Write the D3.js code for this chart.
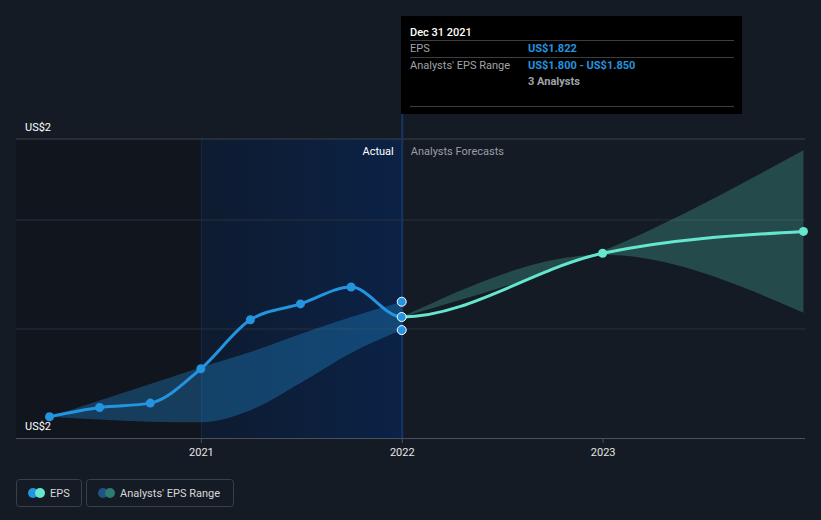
<!DOCTYPE html>
<html><head><meta charset="utf-8">
<script src="https://cdn.jsdelivr.net/npm/d3@7"></script>
<style>
html,body{margin:0;padding:0;background:#151b24;}
svg{display:block;font-family:Roboto,"Noto Sans",sans-serif;}
</style></head>
<body>
<svg id="c" width="821" height="520"></svg>
<script>
// ---- data ----
const epsDates = ["2020-03-31","2020-06-30","2020-09-30","2020-12-31","2021-03-31","2021-06-30","2021-09-30","2021-12-31","2022-12-31","2023-12-31"];
const epsValues = [1.639,1.656,1.664,1.727,1.817,1.846,1.877,1.822,1.939,1.979];
const actualCount = 8; // first 8 are actual
const pastRangeDates = ["2020-03-31","2020-06-30","2020-09-30","2020-12-31","2021-03-31","2021-06-30","2021-09-30","2021-12-31"];
const pastRangeLow  = [1.639,1.634,1.630,1.629,1.651,1.701,1.756,1.798];
const pastRangeHigh = [1.639,1.669,1.699,1.730,1.758,1.791,1.822,1.850];
const fcRangeDates = ["2021-12-31","2022-12-31","2023-12-31"];
const fcRangeLow  = [1.822,1.936,1.830];
const fcRangeHigh = [1.822,1.943,2.128];
const yTickValues = [1.6, 2.1486];
const yTickLabels = ["US$2","US$2"];
const gridValues = [1.8, 2.0];
const xTickYears = ["2021","2022","2023"];
const tooltipTitle = "Dec 31 2021";
const tooltipRows = [["EPS","US$1.822"],["Analysts' EPS Range","US$1.800 - US$1.850"]];
const tooltipNote = "3 Analysts";
const legendItems = ["EPS","Analysts' EPS Range"];

const parse = d3.timeParse("%Y-%m-%d");
const svg = d3.select("#c");
const x = d3.scaleTime().domain([new Date(2020,0,1), new Date(2024,0,1)]).range([0,804]);
const y = d3.scaleLinear().domain([1.6, 2.1486]).range([438,139]);
const pLeft = 16, pRight = 805, yMaxV = y.domain()[1], pBottom = 438;
const xNow = x(parse("2021-12-31"));
const x2021 = x(new Date(2021,0,1));

const defs = svg.append("defs");
const g1 = defs.append("linearGradient").attr("id","pastGrad").attr("x1","0").attr("x2","1");
g1.append("stop").attr("offset","0").attr("stop-color","#0e1b30");
g1.append("stop").attr("offset","1").attr("stop-color","#0b2246");
defs.append("clipPath").attr("id","clipPast").append("rect").attr("x",0).attr("y",0).attr("width",xNow).attr("height",520);
defs.append("clipPath").attr("id","clipFc").append("rect").attr("x",xNow).attr("y",0).attr("width",pRight-xNow).attr("height",520);
defs.append("clipPath").attr("id","clipPlot").append("rect").attr("x",pLeft).attr("y",0).attr("width",pRight-pLeft).attr("height",520);

// shaded regions
svg.append("rect").attr("x",pLeft).attr("y",y(yMaxV)).attr("width",x2021-pLeft).attr("height",pBottom-y(yMaxV)).attr("fill","#11161e");
svg.append("rect").attr("x",x2021).attr("y",y(yMaxV)).attr("width",xNow-x2021).attr("height",pBottom-y(yMaxV)).attr("fill","url(#pastGrad)");
svg.append("line").attr("x1",x2021).attr("x2",x2021).attr("y1",y(yMaxV)).attr("y2",pBottom).attr("stroke","#13284a").attr("stroke-width",1);

// grid
svg.selectAll(".grid").data(gridValues).enter().append("line")
  .attr("x1",pLeft).attr("x2",pRight).attr("y1",d=>y(d)).attr("y2",d=>y(d))
  .attr("stroke","#2a313c").attr("stroke-width",1);
svg.append("line").attr("x1",pLeft).attr("x2",pRight).attr("y1",y(yMaxV)).attr("y2",y(yMaxV)).attr("stroke","#3b424d").attr("stroke-width",1);

// indicator line
svg.append("line").attr("x1",xNow+0.5).attr("x2",xNow+0.5).attr("y1",16).attr("y2",pBottom).attr("stroke","#173463").attr("stroke-width",2);

// bands
const area = d3.area().curve(d3.curveMonotoneX).x(d=>x(d.date)).y0(d=>y(d.lo)).y1(d=>y(d.hi));
const pastRange = pastRangeDates.map((d,i)=>({date:parse(d),lo:pastRangeLow[i],hi:pastRangeHigh[i]}));
const fcRange = fcRangeDates.map((d,i)=>({date:parse(d),lo:fcRangeLow[i],hi:fcRangeHigh[i]}));
svg.append("path").datum(pastRange).attr("d",area).attr("fill","#2394df").attr("fill-opacity",0.32);
svg.append("path").datum(fcRange).attr("d",area).attr("fill","#5ee0c8").attr("fill-opacity",0.24).attr("clip-path","url(#clipPlot)");

// lines
const eps = epsDates.map((d,i)=>({date:parse(d),v:epsValues[i]}));
const line = d3.line().curve(d3.curveMonotoneX).x(d=>x(d.date)).y(d=>y(d.v));
svg.append("path").datum(eps).attr("d",line).attr("fill","none").attr("stroke","#2394df").attr("stroke-width",3).attr("clip-path","url(#clipPast)");
svg.append("path").datum(eps).attr("d",line).attr("fill","none").attr("stroke","#64e6cf").attr("stroke-width",3).attr("clip-path","url(#clipFc)");

// points
svg.selectAll(".pp").data(eps.slice(0,actualCount-1)).enter().append("circle")
  .attr("cx",d=>x(d.date)).attr("cy",d=>y(d.v)).attr("r",4.5).attr("fill","#2394df");
svg.selectAll(".fp").data(eps.slice(actualCount)).enter().append("circle")
  .attr("cx",d=>x(d.date)).attr("cy",d=>y(d.v)).attr("r",4.5).attr("fill","#64e6cf");
const nowVals = [pastRangeHigh[pastRangeHigh.length-1], epsValues[actualCount-1], pastRangeLow[pastRangeLow.length-1]];
svg.selectAll(".np").data(nowVals).enter().append("circle")
  .attr("cx",xNow).attr("cy",d=>y(d)).attr("r",4.5).attr("fill","#2394df").attr("stroke","#ffffff").attr("stroke-width",1);

// x axis
svg.append("line").attr("x1",pLeft).attr("x2",pRight).attr("y1",pBottom+0.5).attr("y2",pBottom+0.5).attr("stroke","#4a515c").attr("stroke-width",1);
const xt = svg.selectAll(".xt").data(xTickYears).enter().append("g")
  .attr("transform",d=>`translate(${x(new Date(+d,0,1))},${pBottom})`);
xt.append("line").attr("y1",0).attr("y2",5).attr("stroke","#4a515c");
xt.append("text").attr("y",18).attr("text-anchor","middle").attr("fill","#e6e6e6").attr("font-size",11).text(d=>d);

// y labels
svg.selectAll(".yl").data(yTickValues).enter().append("text")
  .attr("x",25).attr("y",d=>y(d)-8).attr("fill","#ffffff").attr("font-size",11).text((d,i)=>yTickLabels[i]);

// section labels
svg.append("text").attr("x",xNow-8).attr("y",155).attr("text-anchor","end").attr("fill","#ffffff").attr("font-size",11).text("Actual");
svg.append("text").attr("x",xNow+9).attr("y",155).attr("fill","#9a9ea5").attr("font-size",11).text("Analysts Forecasts");

// tooltip
const tt = svg.append("g").attr("transform","translate(401,16)");
tt.append("rect").attr("width",341).attr("height",98).attr("fill","#000000");
tt.append("text").attr("x",9).attr("y",20).attr("fill","#ffffff").attr("font-size",11).attr("font-weight",500).text(tooltipTitle);
[24,41,90].forEach(v=>tt.append("line").attr("x1",9).attr("x2",333).attr("y1",v+0.5).attr("y2",v+0.5).attr("stroke","#3a3d42"));
tooltipRows.forEach((r,i)=>{
  tt.append("text").attr("x",9).attr("y",36+i*17).attr("fill","#a0a3a8").attr("font-size",11).text(r[0]);
  tt.append("text").attr("x",127).attr("y",36+i*17).attr("fill","#2394df").attr("font-size",11).attr("font-weight",700).text(r[1]);
});
tt.append("text").attr("x",127).attr("y",69).attr("fill","#a0a3a8").attr("font-size",11).attr("font-weight",700).text(tooltipNote);

// legend
const lg = svg.append("g");
lg.append("rect").attr("x",16.5).attr("y",479.5).attr("width",65).attr("height",27).attr("rx",3).attr("fill","none").attr("stroke","#3a404a");
lg.append("circle").attr("cx",33).attr("cy",493).attr("r",5).attr("fill","#2394df");
lg.append("circle").attr("cx",40).attr("cy",493).attr("r",5).attr("fill","#64e6cf");
lg.append("text").attr("x",50).attr("y",497).attr("fill","#d8d8d8").attr("font-size",11).text(legendItems[0]);
lg.append("rect").attr("x",86.5).attr("y",479.5).attr("width",147).attr("height",27).attr("rx",3).attr("fill","none").attr("stroke","#3a404a");
lg.append("circle").attr("cx",103).attr("cy",493).attr("r",5).attr("fill","#1e5485");
lg.append("circle").attr("cx",110).attr("cy",493).attr("r",5).attr("fill","#2f7a72");
lg.append("text").attr("x",120).attr("y",497).attr("fill","#d8d8d8").attr("font-size",11).text(legendItems[1]);
</script>
</body></html>
